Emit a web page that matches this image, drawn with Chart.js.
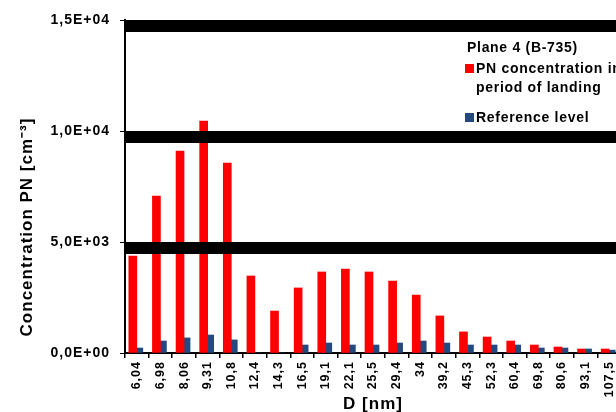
<!DOCTYPE html>
<html>
<head>
<meta charset="utf-8">
<script src="https://cdn.jsdelivr.net/npm/chart.js@4.4.0/dist/chart.umd.min.js"></script>
<style>
html, body { margin: 0; padding: 0; background: #fff; overflow: hidden; width: 616px; height: 412px; }
#wrap { position: relative; width: 630px; height: 412px; }
#legend { position: absolute; left: 465px; top: 38px; font: bold 14px "Liberation Sans", Arial, sans-serif; letter-spacing: 0.7px; color: #000; white-space: nowrap; line-height: 19px; }
#legend .item { position: relative; padding-left: 11px; }
#legend .sw { position: absolute; left: 0; top: 5px; width: 9px; height: 9px; }
</style>
</head>
<body>
<div id="wrap">
  <canvas id="chart" width="630" height="412"></canvas>
  <div id="legend"></div>
</div>
<script>
// dane
const categories = ['6,04', '6,98', '8,06', '9,31', '10,8', '12,4', '14,3', '16,5', '19,1', '22,1', '25,5',
  '29,4', '34', '39,2', '45,3', '52,3', '60,4', '69,8', '80,6', '93,1', '107,5'];
const landing = [4370, 7070, 9100, 10450, 8560, 3470, 1890, 2930, 3650, 3780, 3650,
  3240, 2610, 1670, 950, 720, 540, 360, 270, 180, 180];
const reference = [225, 540, 680, 810, 590, 0, 0, 360, 450, 360, 360,
  450, 540, 450, 360, 360, 360, 225, 225, 180, 130];
const yTickValues = [0, 5000, 10000, 15000];
const yTickLabels = ['0,0E+00', '5,0E+03', '1,0E+04', '1,5E+04'];
const legendTitle = 'Plane 4 (B-735)';
const seriesNames = [['PN concentration in', 'period of landing'], ['Reference level']];
const colors = ['#ff0000', '#24497c'];

const FONT = '"Liberation Sans", Arial, sans-serif';

// grube czarne linie siatki + tytuły osi
const extras = {
  id: 'extras',
  beforeUpdate(c) { c.ctx.letterSpacing = '1px'; },
  beforeDraw(c) { c.ctx.letterSpacing = '1px'; },
  afterDatasetsDraw(c) {
    const { ctx, chartArea: a, scales: { y } } = c;
    ctx.save();
    ctx.fillStyle = '#000';
    yTickValues.filter(v => v > 0).forEach(v => {
      const p = y.getPixelForValue(v);
      ctx.fillRect(a.left, p, a.right - a.left, 12);
    });
    ctx.restore();
  },
  afterDraw(c) {
    const { ctx, chartArea: a } = c;
    ctx.save();
    ctx.letterSpacing = '1px';
    ctx.fillStyle = '#000';
    ctx.font = 'bold 17px ' + FONT;
    ctx.textAlign = 'center';
    ctx.textBaseline = 'middle';
    ctx.fillText('D [nm]', (a.left + a.right) / 2, 404);
    ctx.translate(27, 227);
    ctx.rotate(-Math.PI / 2);
    ctx.fillText('Concentration PN [cm\u207B\u00B3]', 0, 0);
    ctx.restore();
  }
};

const ctx = document.getElementById('chart').getContext('2d');
const chart = new Chart(ctx, {
  type: 'bar',
  data: {
    labels: categories,
    datasets: [{
      label: seriesNames[0].join(' '),
      data: landing,
      backgroundColor: colors[0],
      barThickness: 8
    }, {
      label: seriesNames[1].join(' '),
      data: reference,
      backgroundColor: colors[1],
      barThickness: 6
    }]
  },
  options: {
    responsive: false,
    animation: false,
    devicePixelRatio: 1,
    layout: { padding: { top: 20, right: 9, left: 0, bottom: 0 } },
    plugins: { legend: { display: false }, tooltip: { enabled: false } },
    scales: {
      x: {
        afterFit(s) { s.height = 59; },
        border: { display: true, color: '#000', width: 2 },
        grid: { offset: true, drawOnChartArea: false, tickLength: 5, tickColor: '#000', lineWidth: 1.5 },
        ticks: {
          minRotation: 90, maxRotation: 90, autoSkip: false, padding: 3,
          color: '#000', font: { family: FONT, size: 12.5, weight: 'bold' }
        }
      },
      y: {
        min: 0, max: 15000,
        afterFit(s) { s.width = 125; },
        afterBuildTicks(s) { s.ticks = yTickValues.map(v => ({ value: v })); },
        border: { display: true, color: '#000', width: 2 },
        grid: { drawOnChartArea: false, tickLength: 5, tickColor: '#000' },
        ticks: {
          padding: 10, color: '#000',
          font: { family: FONT, size: 14, weight: 'bold' },
          callback: (v, i) => yTickLabels[i]
        }
      }
    }
  },
  plugins: [extras]
});

// legenda
const lg = document.getElementById('legend');
let html = '<div style="margin-left:2px">' + legendTitle + '</div>';
seriesNames.forEach((lines, i) => {
  html += '<div class="item" style="margin-top:' + (i === 0 ? 2 : 11) + 'px">' +
    '<span class="sw" style="background:' + colors[i] + '"></span>' + lines.join('<br>') + '</div>';
});
lg.innerHTML = html;
</script>
</body>
</html>
